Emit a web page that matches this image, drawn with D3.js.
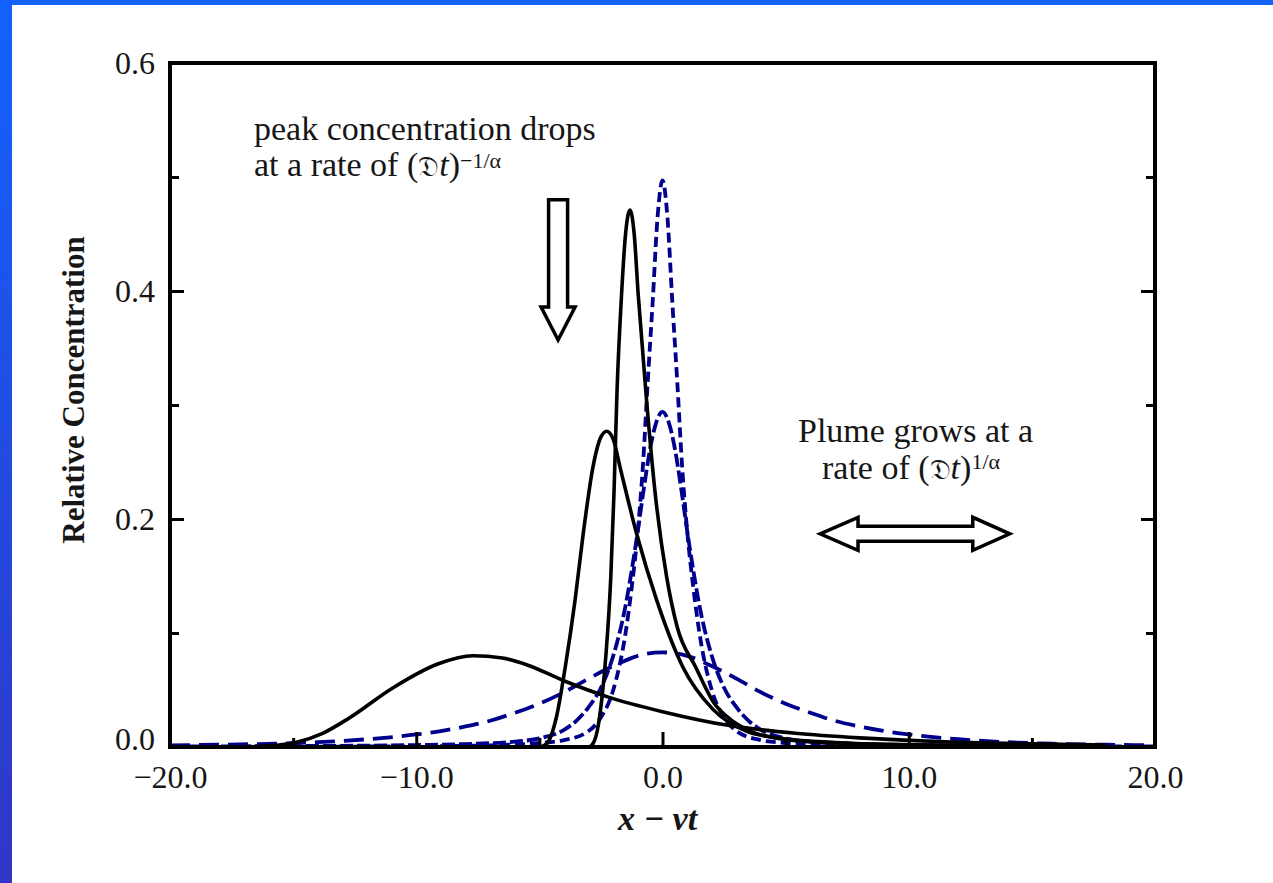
<!DOCTYPE html>
<html>
<head>
<meta charset="utf-8">
<script src="https://d3js.org/d3.v7.min.js"></script>
<style>
  body { margin: 0; padding: 0; background: #fff; }
  svg { display: block; }
  text { font-family: "Liberation Serif", "Times New Roman", serif; fill: #161616; }
</style>
</head>
<body>
<div id="chart"></div>
<script>
// tick values and labels
const xTicks = [-20, -10, 0, 10, 20];
const xTickLabels = ["\u221220.0", "\u221210.0", "0.0", "10.0", "20.0"];
const xMinorTicks = [-15, -5, 5, 15];
const yTicks = [0, 0.2, 0.4, 0.6];
const yTickLabels = ["0.0", "0.2", "0.4", "0.6"];
const yMinorTicks = [0.1, 0.3, 0.5];

// skewed plumes (solid black) as [x, c]
const blackNarrow = [[-20, 0], [-3.0, 0], [-2.82, 0.003], [-2.6, 0.02], [-2.47, 0.041], [-2.3, 0.08],
  [-2.1, 0.149], [-1.97, 0.223], [-1.85, 0.31], [-1.66, 0.398], [-1.5, 0.45], [-1.32, 0.471],
  [-1.15, 0.45], [-0.99, 0.398], [-0.67, 0.31], [-0.3, 0.223], [0.17, 0.149], [0.6, 0.105],
  [1.35, 0.07], [2.05, 0.04], [2.9, 0.022], [3.8, 0.012], [5, 0.0065], [7, 0.0035], [10, 0.002],
  [14, 0.0011], [18, 0.0007]];
const blackMedium = [[-20, 0], [-5.0, 0], [-4.7, 0.003], [-4.3, 0.027], [-3.95, 0.07], [-3.55, 0.129],
  [-3.22, 0.187], [-2.82, 0.246], [-2.5, 0.272], [-2.27, 0.277], [-2.0, 0.27], [-1.73, 0.246],
  [-1.05, 0.187], [-0.24, 0.129], [0.83, 0.07], [2.05, 0.033], [3.4, 0.014], [5, 0.007], [7, 0.004],
  [10, 0.002], [14, 0.0011], [18, 0.0007]];
const blackWide = [[-20, 0], [-17, 0.0002], [-16, 0.001], [-14.9, 0.004], [-13.8, 0.012], [-12.75, 0.025],
  [-10.94, 0.052], [-9.1, 0.073], [-7.7, 0.08], [-6.5, 0.078], [-5.5, 0.072], [-3.88, 0.057],
  [-2.23, 0.044], [0, 0.031], [2.66, 0.019], [5.4, 0.012], [8, 0.008], [10, 0.0058], [12, 0.0042],
  [15, 0.0027], [18, 0.0017]];

// symmetric plumes (dashed blue)
const blueNarrow = [[-20, 0.0001], [-10, 0.0006], [-7, 0.0015], [-5, 0.0035], [-4, 0.006], [-3, 0.014],
  [-2.5, 0.026], [-2, 0.05], [-1.5, 0.1], [-1.25, 0.14], [-1.0, 0.19], [-0.8, 0.245], [-0.6, 0.32],
  [-0.4, 0.39], [-0.2, 0.465], [0, 0.497], [0.2, 0.465], [0.4, 0.39], [0.6, 0.32], [0.8, 0.245],
  [1.0, 0.19], [1.25, 0.14], [1.5, 0.1], [2, 0.05], [2.5, 0.026], [3, 0.014], [4, 0.006], [5, 0.0035],
  [7, 0.0015], [10, 0.0006], [20, 0.0001]];
const blueMedium = [[-20, 0.0005], [-15, 0.0008], [-10, 0.0017], [-8, 0.0026], [-6, 0.0047], [-5, 0.0075],
  [-4, 0.015], [-3.5, 0.023], [-3, 0.035], [-2.5, 0.052], [-2, 0.08], [-1.5, 0.124], [-1.25, 0.155],
  [-1, 0.19], [-0.75, 0.228], [-0.5, 0.262], [-0.25, 0.285], [0, 0.294], [0.25, 0.285], [0.5, 0.262],
  [0.75, 0.228], [1, 0.19], [1.25, 0.155], [1.5, 0.124], [2, 0.08], [2.5, 0.052], [3, 0.035],
  [3.5, 0.023], [4, 0.015], [5, 0.0075], [6, 0.0047], [8, 0.0026], [10, 0.0017], [15, 0.0008], [20, 0.0005]];
const blueWide = [[-20, 0.0015], [-18, 0.002], [-16, 0.0028], [-14, 0.0042], [-12, 0.0068], [-10, 0.011],
  [-9, 0.014], [-8, 0.018], [-7, 0.023], [-6, 0.03], [-5, 0.038], [-4, 0.048], [-3, 0.06], [-2, 0.071],
  [-1, 0.08], [0, 0.083], [1, 0.08], [2, 0.071], [3, 0.06], [4, 0.048], [5, 0.038], [6, 0.03],
  [7, 0.023], [8, 0.018], [9, 0.014], [10, 0.011], [12, 0.0068], [14, 0.0042], [16, 0.0028],
  [18, 0.002], [20, 0.0015]];

const width = 1273, height = 883;
const margin = { top: 63, right: 118, bottom: 136, left: 170 };

const svg = d3.select("#chart").append("svg")
  .attr("width", width)
  .attr("height", height);

// slide border
const defs = svg.append("defs");
const grad = defs.append("linearGradient").attr("id", "side")
  .attr("x1", 0).attr("y1", 0).attr("x2", 0).attr("y2", 1);
grad.append("stop").attr("offset", "0%").attr("stop-color", "#1262fe");
grad.append("stop").attr("offset", "100%").attr("stop-color", "#3036c6");
svg.append("rect").attr("x", 0).attr("y", 0).attr("width", width).attr("height", 5).attr("fill", "#1262fe");
svg.append("rect").attr("x", 0).attr("y", 0).attr("width", 12).attr("height", height).attr("fill", "url(#side)");

const x = d3.scaleLinear().domain([-20, 20]).range([margin.left, width - margin.right]);
const y = d3.scaleLinear().domain([0, 0.6]).range([height - margin.bottom, margin.top]);

defs.append("clipPath").attr("id", "plot").append("rect")
  .attr("x", x(-20)).attr("y", y(0.6))
  .attr("width", x(20) - x(-20)).attr("height", y(0) - y(0.6));

const line = d3.line()
  .x(d => x(d[0]))
  .y(d => y(d[1]))
  .curve(d3.curveMonotoneX);

const series = [
  { data: blueWide, color: "#00008c", dash: "20,9", w: 3.8 },
  { data: blueMedium, color: "#00008c", dash: "13,4", w: 3.8 },
  { data: blueNarrow, color: "#00008c", dash: "10,5", w: 3.8 },
  { data: blackWide, color: "#000", dash: null, w: 3.6 },
  { data: blackMedium, color: "#000", dash: null, w: 3.6 },
  { data: blackNarrow, color: "#000", dash: null, w: 3.6 }
];

svg.append("g").attr("clip-path", "url(#plot)")
  .selectAll("path")
  .data(series)
  .join("path")
  .attr("d", d => line(d.data))
  .attr("fill", "none")
  .attr("stroke", d => d.color)
  .attr("stroke-width", d => d.w)
  .attr("stroke-dasharray", d => d.dash)
  .attr("stroke-linejoin", "round");

// axes with inward ticks
svg.append("g")
  .attr("transform", `translate(0,${y(0)})`)
  .call(d3.axisBottom(x).tickValues(xTicks).tickSize(-15).tickPadding(18)
    .tickFormat((d, i) => xTickLabels[i]));
svg.append("g")
  .attr("transform", `translate(0,${y(0)})`)
  .call(d3.axisBottom(x).tickValues(xMinorTicks).tickSize(-9).tickFormat(""));

const yAxis = svg.append("g")
  .attr("transform", `translate(${x(-20)},0)`)
  .call(d3.axisLeft(y).tickValues(yTicks).tickSize(-14).tickPadding(15)
    .tickFormat((d, i) => yTickLabels[i]));
svg.append("g")
  .attr("transform", `translate(${x(-20)},0)`)
  .call(d3.axisLeft(y).tickValues(yMinorTicks).tickSize(-9).tickFormat(""));

svg.append("g")
  .attr("transform", `translate(${x(20)},0)`)
  .call(d3.axisRight(y).tickValues(yTicks).tickSize(-14).tickFormat(""));
svg.append("g")
  .attr("transform", `translate(${x(20)},0)`)
  .call(d3.axisRight(y).tickValues(yMinorTicks).tickSize(-9).tickFormat(""));

svg.selectAll(".domain").remove();
svg.selectAll(".tick line").attr("stroke", "#000").attr("stroke-width", 3);
svg.selectAll(".tick text")
  .attr("font-family", "Liberation Serif, serif")
  .attr("font-size", 32)
  .attr("fill", "#161616");
yAxis.selectAll(".tick text").filter(d => d === 0).attr("dy", "0.08em");

// frame
svg.append("rect")
  .attr("x", x(-20)).attr("y", y(0.6))
  .attr("width", x(20) - x(-20)).attr("height", y(0) - y(0.6))
  .attr("fill", "none").attr("stroke", "#000").attr("stroke-width", 4);

// axis titles
svg.append("text")
  .attr("x", x(-0.2)).attr("y", 830)
  .attr("text-anchor", "middle")
  .attr("font-size", 34).attr("font-weight", "bold").attr("font-style", "italic")
  .text("x \u2212 vt");

svg.append("text")
  .attr("transform", "translate(84,390) rotate(-90)")
  .attr("text-anchor", "middle")
  .attr("font-size", 31).attr("font-weight", "bold")
  .text("Relative Concentration");

// annotations
function rate(sel, sup, lift) {
  sel.append("tspan").text("(");
  sel.append("tspan").attr("font-family", "DejaVu Serif, serif").attr("font-size", 28).text("\uD835\uDD07");
  sel.append("tspan").attr("font-style", "italic").text("t");
  sel.append("tspan").text(")");
  sel.append("tspan").attr("dy", -lift).attr("font-size", 22).text(sup);
}

const note1 = svg.append("text").attr("font-size", 34);
note1.append("tspan").attr("x", 254).attr("y", 140).text("peak concentration drops");
note1.append("tspan").attr("x", 254).attr("y", 176).text("at a rate of ");
rate(note1, "\u22121/\u03b1", 8);

const note2 = svg.append("text").attr("font-size", 34);
note2.append("tspan").attr("x", 798).attr("y", 442).text("Plume grows at a");
note2.append("tspan").attr("x", 822).attr("y", 479).text("rate of ");
rate(note2, "1/\u03b1", 10);

// down arrow
const ax = x(-4.24), aTop = y(0.48), aBase = y(0.386), aTip = y(0.357);
svg.append("path")
  .attr("d", `M${ax - 9.5},${aTop}H${ax + 9.5}V${aBase}H${ax + 17}L${ax},${aTip}L${ax - 17},${aBase}H${ax - 9.5}Z`)
  .attr("fill", "#fff").attr("stroke", "#000").attr("stroke-width", 3.5).attr("stroke-linejoin", "miter");

// double arrow
const cy = y(0.187), l0 = x(6.4), l1 = x(7.94), r1 = x(12.6), r0 = x(14.1);
svg.append("path")
  .attr("d", `M${l0},${cy}L${l1},${cy - 16.5}V${cy - 7.5}H${r1}V${cy - 16.5}L${r0},${cy}L${r1},${cy + 16.5}V${cy + 7.5}H${l1}V${cy + 16.5}Z`)
  .attr("fill", "#fff").attr("stroke", "#000").attr("stroke-width", 3.5);
</script>
</body>
</html>
